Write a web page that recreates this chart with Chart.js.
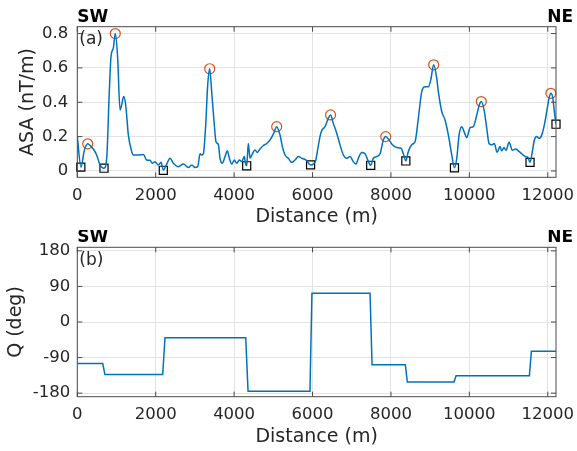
<!DOCTYPE html>
<html>
<head>
<meta charset="utf-8">
<script src="https://cdn.jsdelivr.net/npm/chart.js@4.4.1/dist/chart.umd.min.js"></script>
<style>
  body { margin: 0; background: #fff; }
  canvas { position: absolute; left: 0; }
  #topChart { top: 0; }
  #bottomChart { top: 230px; }
</style>
</head>
<body>
<canvas id="topChart" width="577" height="230"></canvas>
<canvas id="bottomChart" width="577" height="221"></canvas>
<script>
// (a) analytic signal amplitude along the profile
const distance = [0, 94, 180, 265, 340, 408, 494, 579, 681, 750, 816, 860, 918, 969, 1030, 1089, 1132, 1183, 1234, 1302,
  1387, 1430, 1557, 1685, 1770, 1855, 1913, 1982, 2067, 2135, 2194, 2280, 2365, 2450, 2577, 2705, 2832, 2918, 3003, 3071,
  3130, 3173, 3215, 3275, 3326, 3377, 3428, 3487, 3538, 3597, 3640, 3699, 3768, 3827, 3878, 3938, 4005, 4066, 4133, 4194,
  4260, 4290, 4321, 4362, 4405, 4464, 4533, 4592, 4660, 4745, 4832, 4916, 5000, 5086, 5170, 5230, 5298, 5383, 5469, 5553,
  5638, 5724, 5826, 5950, 6020, 6080, 6150, 6200, 6234, 6319, 6403, 6460, 6530, 6617, 6701, 6786, 6872, 6956, 7041, 7110,
  7168, 7255, 7339, 7408, 7484, 7551, 7638, 7722, 7806, 7867, 7951, 8036, 8148, 8258, 8317, 8380, 8444, 8546, 8615, 8699,
  8786, 8870, 8954, 9015, 9090, 9168, 9209, 9296, 9380, 9464, 9551, 9620, 9679, 9738, 9806, 9865, 9934, 10018, 10102, 10189,
  10255, 10305, 10383, 10443, 10502, 10571, 10638, 10706, 10783, 10826, 10885, 10936, 11013, 11097, 11184, 11250, 11337, 11421, 11490, 11548,
  11607, 11658, 11719, 11778, 11847, 11913, 11974, 12033, 12080, 12128, 12168, 12210];
const asa = [0.20, 0.022, 0.12, 0.158, 0.145, 0.128, 0.093, 0.035, 0.016, 0.074, 0.46, 0.667, 0.715, 0.80, 0.657, 0.356, 0.385, 0.433, 0.385, 0.21,
  0.113, 0.093, 0.093, 0.096, 0.064, 0.062, 0.045, 0.054, 0.035, 0.05, 0.005, 0.04, 0.074, 0.045, 0.025, 0.04, 0.02, 0.035, 0.02, 0.025,
  0.10, 0.093, 0.10, 0.268, 0.50, 0.595, 0.46, 0.29, 0.17, 0.155, 0.074, 0.045, 0.084, 0.117, 0.074, 0.04, 0.064, 0.045, 0.064, 0.054,
  0.084, 0.045, 0.03, 0.16, 0.074, 0.10, 0.122, 0.108, 0.128, 0.148, 0.16, 0.18, 0.214, 0.258, 0.21, 0.142, 0.093, 0.074, 0.05, 0.064,
  0.084, 0.074, 0.064, 0.035, 0.04, 0.06, 0.15, 0.21, 0.235, 0.258, 0.307, 0.326, 0.277, 0.22, 0.152, 0.093, 0.074, 0.084, 0.054, 0.04,
  0.074, 0.107, 0.10, 0.064, 0.033, 0.074, 0.084, 0.10, 0.18, 0.20, 0.18, 0.152, 0.136, 0.132, 0.10, 0.058, 0.113, 0.156, 0.17, 0.307,
  0.462, 0.49, 0.49, 0.53, 0.618, 0.54, 0.462, 0.346, 0.297, 0.21, 0.093, 0.018, 0.074, 0.21, 0.258, 0.229, 0.194, 0.252, 0.258, 0.326,
  0.385, 0.404, 0.346, 0.249, 0.16, 0.152, 0.16, 0.109, 0.142, 0.117, 0.136, 0.12, 0.167, 0.12, 0.128, 0.117, 0.10, 0.084, 0.08, 0.05,
  0.113, 0.18, 0.20, 0.19, 0.21, 0.268, 0.346, 0.424, 0.452, 0.424, 0.346, 0.272];

// picked maxima (circles) and minima (squares)
const peakDistance = [265, 969, 3377, 5086, 6460, 7867, 9090, 10305, 12080];
const peakAsa = [0.158, 0.80, 0.595, 0.258, 0.326, 0.20, 0.618, 0.404, 0.452];
const minDistance = [90, 681, 2194, 4321, 5950, 7484, 8380, 9620, 11548, 12210];
const minAsa = [0.022, 0.016, 0.004, 0.03, 0.035, 0.033, 0.058, 0.018, 0.05, 0.272];

// (b) Q angle, one value per segment between minima
const qDistance = [0, 648, 705, 2178, 2237, 4296, 4355, 5934, 5985, 7467, 7518, 8367, 8418, 9610, 9661, 11531, 11582, 12210];
const qAngle = [-105, -105, -133, -133, -40, -40, -175, -175, 73, 73, -108, -108, -152, -152, -136, -136, -74, -74];

// tick labels
const distanceTicks = [0, 2000, 4000, 6000, 8000, 10000, 12000];
const asaTicks = [0, 0.2, 0.4, 0.6, 0.8];
const qTicks = [-180, -90, 0, 90, 180];

const font = "'DejaVu Sans'";
const textColor = "#262626";
const boxColor = "#4a4a4a";
const gridColor = "#e3e3e3";

function points(xs, ys) {
  return xs.map((x, i) => ({ x: x, y: ys[i] }));
}

// box around the axes, inward ticks, SW / NE and panel letter
const frame = {
  id: "frame",
  afterDraw(chart, args, opts) {
    const ctx = chart.ctx;
    const a = chart.chartArea;
    const xs = chart.scales.x;
    const ys = chart.scales.y;
    ctx.save();
    ctx.strokeStyle = boxColor;
    ctx.lineWidth = 1;
    ctx.strokeRect(a.left, a.top, a.right - a.left, a.bottom - a.top);
    ctx.beginPath();
    xs.ticks.forEach((t) => {
      const px = xs.getPixelForValue(t.value);
      ctx.moveTo(px, a.top); ctx.lineTo(px, a.top + 5);
      ctx.moveTo(px, a.bottom); ctx.lineTo(px, a.bottom - 5);
    });
    ys.ticks.forEach((t) => {
      const py = ys.getPixelForValue(t.value);
      ctx.moveTo(a.left, py); ctx.lineTo(a.left + 5, py);
      ctx.moveTo(a.right, py); ctx.lineTo(a.right - 5, py);
    });
    ctx.stroke();

    ctx.fillStyle = "#000";
    ctx.font = "bold 17px " + font;
    ctx.textAlign = "left";
    ctx.fillText("SW", a.left, opts.labelY);
    ctx.textAlign = "right";
    ctx.fillText("NE", 573, opts.labelY);
    ctx.fillStyle = textColor;
    ctx.font = "17px " + font;
    ctx.textAlign = "left";
    ctx.fillText(opts.panel, a.left + 2, a.top + 17.5);
    ctx.restore();
  }
};

function xAxis(height, titlePad) {
  return {
    type: "linear",
    min: 0,
    max: 12210,
    afterBuildTicks: (s) => { s.ticks = distanceTicks.map((v) => ({ value: v })); },
    afterFit: (s) => {
      s.height = height;
      // let layout.padding decide the plot edges
      s.paddingLeft = 0;
      s.paddingRight = 0;
    },
    grid: { color: gridColor, drawTicks: false },
    border: { display: false },
    ticks: { padding: 8.5, color: textColor, autoSkip: false, maxRotation: 0, font: { family: font, size: 16.5 }, callback: (v) => String(v) },
    title: { display: true, text: "Distance (m)", color: textColor, font: { family: font, size: 19 }, padding: { top: 0, bottom: titlePad } }
  };
}

function yAxis(min, max, tickList, label, tickPad, titlePad) {
  return {
    min: min,
    max: max,
    afterBuildTicks: (s) => { s.ticks = tickList.map((v) => ({ value: v })); },
    afterFit: (s) => {
      s.width = 77.3;
      s.paddingTop = 0;
      s.paddingBottom = 0;
    },
    grid: { color: gridColor, drawTicks: false },
    border: { display: false },
    ticks: { padding: tickPad, color: textColor, autoSkip: false, font: { family: font, size: 16.5 }, callback: (v) => String(v) },
    title: { display: true, text: label, color: textColor, font: { family: font, size: 19 }, padding: { top: titlePad, bottom: 0 } }
  };
}

new Chart(document.getElementById("topChart"), {
  type: "line",
  data: {
    datasets: [
      {
        data: points(distance, asa),
        borderColor: "#0072BD",
        borderWidth: 1.5,
        pointRadius: 0,
        cubicInterpolationMode: "monotone",
      },
      {
        type: "scatter",
        data: points(peakDistance, peakAsa),
        borderColor: "#D95319",
        backgroundColor: "rgba(0,0,0,0)",
        borderWidth: 1.2,
        pointRadius: 5,
        clip: false,
      },
      {
        type: "scatter",
        data: points(minDistance, minAsa),
        borderColor: "#000",
        backgroundColor: "rgba(0,0,0,0)",
        borderWidth: 1.2,
        pointStyle: "rect",
        pointRadius: 5.7,
        clip: false,
      },
    ],
  },
  options: {
    responsive: false,
    animation: false,
    layout: { padding: { left: 0, right: 21, top: 26.7, bottom: 0 } },
    plugins: {
      legend: { display: false },
      tooltip: { enabled: false },
      frame: { panel: "(a)", labelY: 21.5 },
    },
    scales: {
      x: xAxis(52.7, 1.6),
      y: yAxis(-0.037, 0.84, asaTicks, "ASA (nT/m)", 9, 16.6),
    },
  },
  plugins: [frame],
});

new Chart(document.getElementById("bottomChart"), {
  type: "line",
  data: {
    datasets: [
      {
        data: points(qDistance, qAngle),
        borderColor: "#0072BD",
        borderWidth: 1.5,
        pointRadius: 0,
        tension: 0,
      },
    ],
  },
  options: {
    responsive: false,
    animation: false,
    layout: { padding: { left: 0, right: 21, top: 17.3, bottom: 0 } },
    plugins: {
      legend: { display: false },
      tooltip: { enabled: false },
      frame: { panel: "(b)", labelY: 12 },
    },
    scales: {
      x: xAxis(54.3, 2.6),
      y: yAxis(-189, 189, qTicks, "Q (deg)", 7, 4.4),
    },
  },
  plugins: [frame],
});
</script>
</body>
</html>
